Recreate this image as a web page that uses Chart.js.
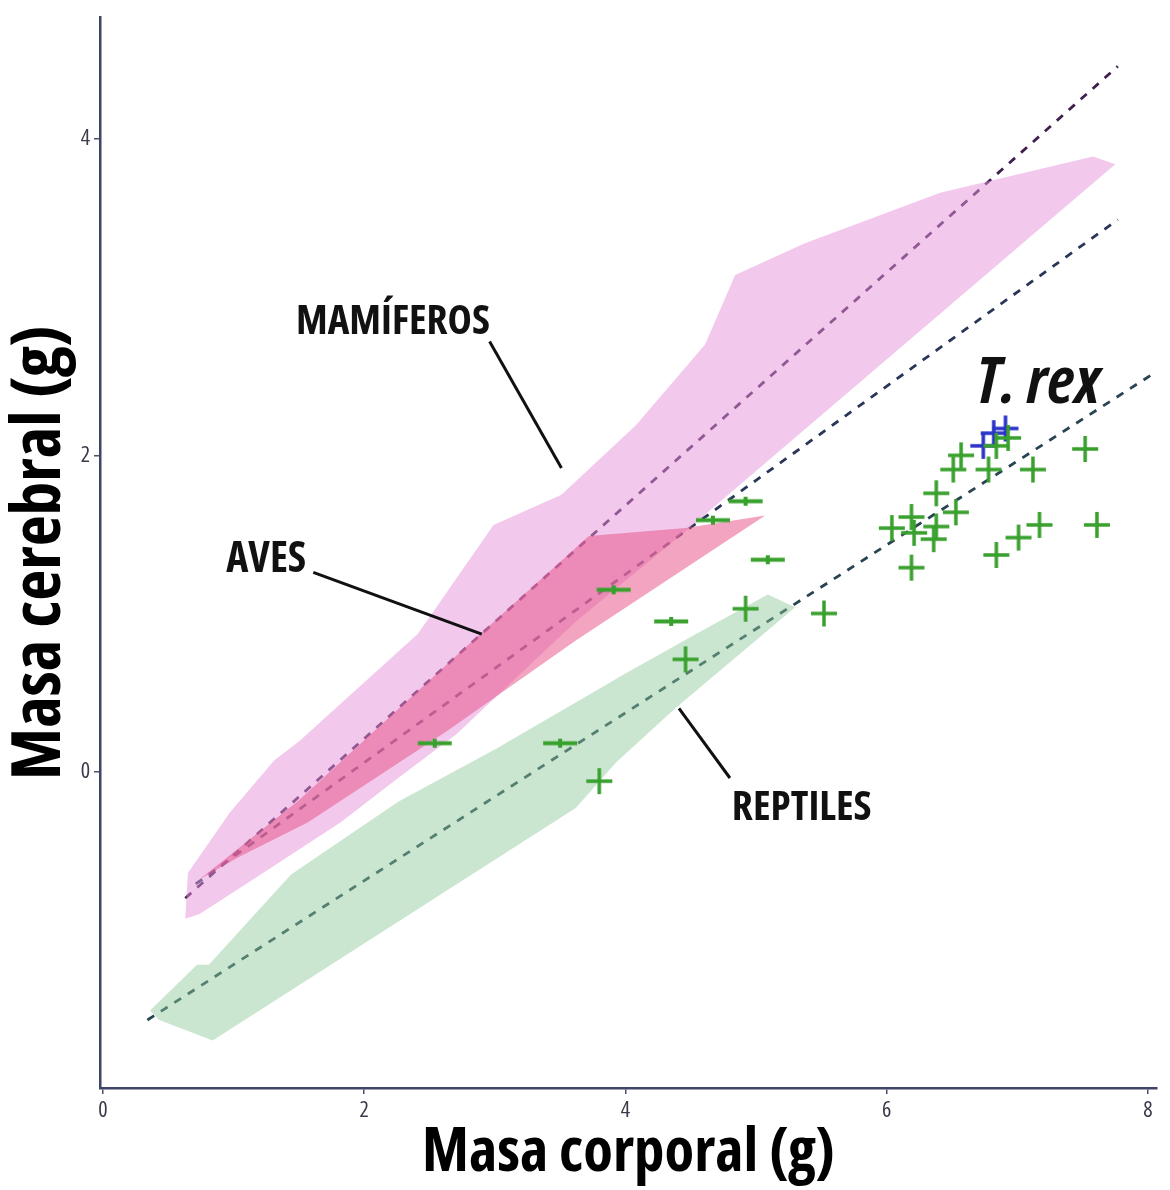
<!DOCTYPE html>
<html>
<head>
<meta charset="utf-8">
<script src="https://cdn.jsdelivr.net/npm/chart.js@4.4.1/dist/chart.umd.min.js"></script>
<style>
  body { margin: 0; background: #fff; }
  #wrap { width: 1170px; height: 1190px; }
</style>
</head>
<body>
<div id="wrap"><canvas id="cerebro"></canvas></div>
<script>
// Masa cerebral vs masa corporal (escala log) - mamíferos, aves, reptiles y T. rex
const xTicks = [0, 2, 4, 6, 8];
const yTicks = [0, 2, 4];

// contornos de cada grupo
const mamiferosX = [0.63, 0.65, 0.97, 1.31, 1.50, 2.41, 2.99, 3.51, 4.08, 4.61, 4.84, 5.37, 6.41, 7.58, 7.75, 4.46, 3.62, 2.71, 2.26, 1.82, 1.19, 0.74];
const mamiferosY = [-0.93, -0.64, -0.26, 0.07, 0.19, 0.87, 1.56, 1.75, 2.19, 2.70, 3.14, 3.34, 3.66, 3.89, 3.84, 1.52, 0.95, 0.24, -0.04, -0.32, -0.66, -0.90];
const avesX = [0.74, 1.50, 2.74, 3.72, 4.46, 5.07, 3.62, 2.64, 1.57, 1.04];
const avesY = [-0.68, -0.18, 0.76, 1.49, 1.54, 1.62, 0.83, 0.26, -0.32, -0.54];
const reptilesX = [0.36, 0.72, 0.81, 1.44, 2.26, 3.02, 4.00, 4.54, 5.09, 5.30, 4.38, 3.93, 3.62, 3.09, 0.84, 0.43];
const reptilesY = [-1.51, -1.22, -1.22, -0.65, -0.19, 0.15, 0.62, 0.87, 1.12, 1.04, 0.40, 0.06, -0.23, -0.51, -1.70, -1.57];

// rectas de regresión (extremos)
const rectaMamiferosX = [0.63, 7.77];
const rectaMamiferosY = [-0.80, 4.46];
const rectaAvesX = [0.71, 7.77];
const rectaAvesY = [-0.71, 3.49];
const rectaReptilesX = [0.34, 8.03];
const rectaReptilesY = [-1.57, 2.51];

// dinosaurios
const dinoPlanoX = [2.54, 3.50, 3.91, 4.35, 4.67, 4.92, 5.09];
const dinoPlanoY = [0.18, 0.18, 1.15, 0.95, 1.59, 1.71, 1.34];
const dinoX = [3.80, 4.46, 4.92, 5.52, 6.04, 6.19, 6.21, 6.19, 6.38, 6.36, 6.38, 6.53, 6.51, 6.57, 6.78, 6.84, 6.93, 7.12, 6.84, 7.01, 7.17, 7.52, 7.61];
const dinoY = [-0.06, 0.71, 1.03, 1.00, 1.54, 1.61, 1.51, 1.29, 1.55, 1.47, 1.76, 1.64, 1.91, 2.00, 1.91, 2.06, 2.11, 1.91, 1.37, 1.48, 1.56, 2.04, 1.56];
const trexX = [6.74, 6.82, 6.91];
const trexY = [2.06, 2.14, 2.17];

const zip = (xs, ys) => xs.map((x, i) => ({x: x, y: ys[i]}));

// fuente estrecha: Open Sans condensada si existe, si no DejaVu Sans Condensed
const medidor = document.createElement('canvas').getContext('2d');
const mide = (font, txt) => { medidor.font = font; return medidor.measureText(txt).width; };
let familia = '"DejaVu Sans Condensed", "DejaVu Sans", sans-serif';
let estira = '';
const muestra = 'MAMÍFEROS Masa corporal (g)';
if (mide('condensed bold 40px "Open Sans"', muestra) < 0.93 * mide('bold 40px "Open Sans"', muestra)) {
  familia = '"Open Sans", sans-serif';
  estira = 'condensed';
}
// Chart.js no acepta "condensed" como style, así que va delante del peso
const pesoNegrita = (estira + ' bold').trim();
const pesoNormal = (estira + ' normal').trim();
// tamaño de letra que da el ancho buscado
const ajusta = (txt, ancho, italic) => {
  const w = mide(`${italic ? 'italic ' : ''}${pesoNegrita} 100px ${familia}`, txt);
  return Math.round(100 * ancho / w * 10) / 10;
};

const cruz = (w, h, color, plano) => {
  const cv = document.createElement('canvas');
  cv.width = w; cv.height = h;
  const g = cv.getContext('2d');
  g.strokeStyle = color;
  g.lineWidth = plano ? 4 : 3.5;
  g.beginPath();
  g.moveTo(1, h / 2); g.lineTo(w - 1, h / 2);
  g.moveTo(w / 2, 1); g.lineTo(w / 2, h - 1);
  g.stroke();
  return cv;
};
const cruzVerde = cruz(28, 28, '#38a02c', false);
const cruzPlana = cruz(36, 11, '#38a02c', true);
const cruzAzul = cruz(28, 28, '#2a32c8', false);

const etiquetas = [
  {texto: 'MAMÍFEROS', x: 2.22, y: 2.84, ancho: 194, italic: false, linea: [2.96, 2.72, 3.51, 1.92]},
  {texto: 'AVES', x: 1.25, y: 1.34, ancho: 80, italic: false, linea: [1.61, 1.26, 2.90, 0.87]},
  {texto: 'REPTILES', x: 5.35, y: -0.23, ancho: 140, italic: false, linea: [4.80, -0.04, 4.41, 0.40]},
  {texto: 'T. rex', x: 7.16, y: 2.45, ancho: 125, italic: true, linea: null}
];

const anotaciones = {
  id: 'anotaciones',
  afterDatasetsDraw(chart) {
    const {ctx, scales: {x, y}} = chart;
    ctx.save();
    etiquetas.forEach(e => {
      if (e.linea) {
        ctx.strokeStyle = '#111';
        ctx.lineWidth = 3;
        ctx.beginPath();
        ctx.moveTo(x.getPixelForValue(e.linea[0]), y.getPixelForValue(e.linea[1]));
        ctx.lineTo(x.getPixelForValue(e.linea[2]), y.getPixelForValue(e.linea[3]));
        ctx.stroke();
      }
      ctx.fillStyle = '#111';
      ctx.font = `${e.italic ? 'italic ' : ''}${pesoNegrita} ${ajusta(e.texto, e.ancho, e.italic)}px ${familia}`;
      ctx.textAlign = 'center';
      ctx.textBaseline = 'middle';
      ctx.fillText(e.texto, x.getPixelForValue(e.x), y.getPixelForValue(e.y));
    });
    ctx.restore();
  }
};

const recta = (xs, ys, color) => ({
  type: 'line', data: zip(xs, ys), borderColor: color, borderWidth: 2.8,
  borderDash: [8, 8], pointRadius: 0, fill: false, order: 5
});
const zona = (xs, ys, color, orden) => {
  const d = zip(xs, ys);
  d.push(d[0]);
  return {type: 'line', data: d, borderWidth: 0, borderColor: color, backgroundColor: color,
    fill: 'shape', pointRadius: 0, tension: 0, order: orden};
};
const puntos = (xs, ys, img) => ({
  type: 'scatter', data: zip(xs, ys), pointStyle: img, pointRadius: 12, order: 0
});

const ctx = document.getElementById('cerebro').getContext('2d');
const myChart = new Chart(ctx, {
  type: 'scatter',
  data: {
    datasets: [
      recta(rectaMamiferosX, rectaMamiferosY, '#3e1f4e'),
      recta(rectaAvesX, rectaAvesY, '#2a3658'),
      recta(rectaReptilesX, rectaReptilesY, '#284452'),
      zona(mamiferosX, mamiferosY, 'rgba(230,145,218,0.5)', 4),
      zona(avesX, avesY, 'rgba(232,90,140,0.55)', 3),
      zona(reptilesX, reptilesY, 'rgba(140,200,150,0.45)', 2),
      puntos(dinoPlanoX, dinoPlanoY, cruzPlana),
      puntos(dinoX, dinoY, cruzVerde),
      puntos(trexX, trexY, cruzAzul)
    ]
  },
  options: {
    responsive: true,
    maintainAspectRatio: false,
    animation: false,
    layout: {padding: {top: 8, right: 5, left: 0, bottom: 0}},
    plugins: {legend: {display: false}, tooltip: {enabled: false}},
    scales: {
      x: {
        type: 'linear', min: -0.023, max: 8.07,
        afterBuildTicks: (s) => { s.ticks = xTicks.map(v => ({value: v})); },
        afterFit: (s) => { s.height = 102; },
        grid: {drawOnChartArea: false, drawTicks: true, tickLength: 6, color: '#5a4a6a', lineWidth: 1.5},
        border: {display: true, color: '#3f4566', width: 2.5},
        ticks: {color: '#3a3a4a', padding: 4, font: {family: familia, weight: pesoNormal, size: 22}},
        title: {display: true, text: 'Masa corporal (g)', color: '#000', padding: {top: 0, bottom: 0},
          font: {family: familia, weight: pesoNegrita, size: ajusta('Masa corporal (g)', 413, false)}}
      },
      y: {
        type: 'linear', min: -2.0, max: 4.77,
        afterBuildTicks: (s) => { s.ticks = yTicks.map(v => ({value: v})); },
        afterFit: (s) => { s.width = 100; },
        grid: {drawOnChartArea: false, drawTicks: true, tickLength: 6, color: '#5a4a6a', lineWidth: 1.5},
        border: {display: true, color: '#3f4566', width: 2.5},
        ticks: {color: '#3a3a4a', padding: 4, font: {family: familia, weight: pesoNormal, size: 22}},
        title: {display: true, text: 'Masa cerebral (g)', color: '#000', padding: {top: 0, bottom: 0},
          font: {family: familia, weight: pesoNegrita, size: ajusta('Masa cerebral (g)', 455, false)}}
      }
    }
  },
  plugins: [anotaciones]
});
</script>
</body>
</html>
